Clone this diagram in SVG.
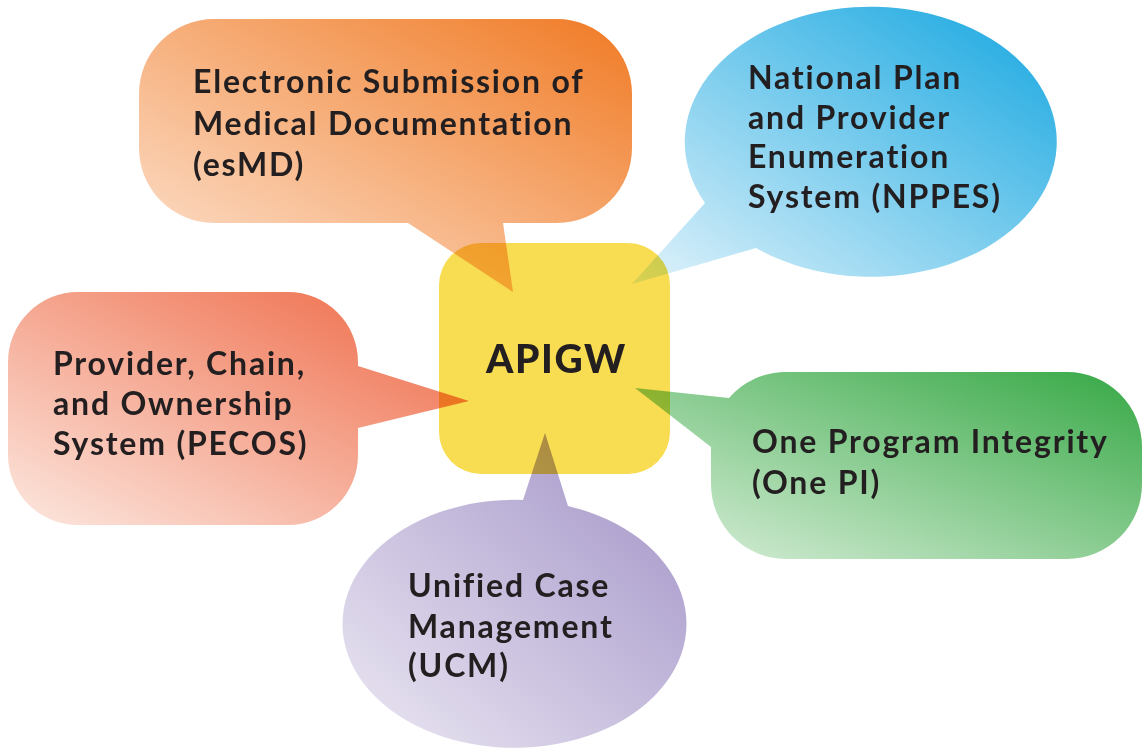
<svg xmlns="http://www.w3.org/2000/svg" width="1143" height="749" viewBox="0 0 1143 749">
<defs>
<linearGradient id="gOrange" x1="0" y1="1" x2="1" y2="0"><stop offset="0" stop-color="#FDE6D6"/><stop offset="1" stop-color="#F07A24"/></linearGradient>
<linearGradient id="gBlue" x1="0" y1="1" x2="1" y2="0"><stop offset="0" stop-color="#E2F3FB"/><stop offset="1" stop-color="#14A6E0"/></linearGradient>
<linearGradient id="gRed" x1="0" y1="1" x2="1" y2="0"><stop offset="0" stop-color="#FCE8E0"/><stop offset="1" stop-color="#EE6642"/></linearGradient>
<linearGradient id="gGreen" x1="0" y1="1" x2="1" y2="0"><stop offset="0" stop-color="#DDF0DD"/><stop offset="1" stop-color="#36A845"/></linearGradient>
<linearGradient id="gPurple" x1="0" y1="1" x2="1" y2="0"><stop offset="0" stop-color="#ECE8F3"/><stop offset="1" stop-color="#A091C6"/></linearGradient>
</defs>
<style>
.bubble{mix-blend-mode:multiply}
.t{font-family:Lato,"Open Sans","Liberation Sans",sans-serif;font-weight:700;font-size:32px;letter-spacing:1.8px;fill:#231F20}
.c{font-family:Lato,"Open Sans","Liberation Sans",sans-serif;font-weight:900;font-size:39px;letter-spacing:1.6px;fill:#231F20}
</style>
<rect width="1143" height="749" fill="#FFFFFF"/>
<g id="apigw">
<rect x="439" y="243" width="231" height="231" rx="42" fill="#F8DC52"/>
<text class="c" x="486" y="373">APIGW</text>
</g>
<g id="esmd">
<path class="bubble" fill="url(#gOrange)" d="M214,19 H557 A75,75 0 0 1 632,94 V148 A75,75 0 0 1 557,223 H503 L513,292 L408,223 H214 A75,75 0 0 1 139,148 V94 A75,75 0 0 1 214,19 Z"/>
<text class="t" x="193" y="93">Electronic Submission of</text>
<text class="t" x="193" y="135">Medical Documentation</text>
<text class="t" x="193" y="176">(esMD)</text>
</g>
<g id="nppes">
<path class="bubble" fill="url(#gBlue)" d="M705,203 A186,135 0 1 1 756,248 L632,284 Z"/>
<text class="t" x="748" y="89">National Plan</text>
<text class="t" x="748" y="129">and Provider</text>
<text class="t" x="748" y="168">Enumeration</text>
<text class="t" x="748" y="208">System (NPPES)</text>
</g>
<g id="pecos">
<path class="bubble" fill="url(#gRed)" d="M78,292 H288 A70,70 0 0 1 358,362 V366 L469,401 L358,428 V455 A70,70 0 0 1 288,525 H78 A70,70 0 0 1 8,455 V362 A70,70 0 0 1 78,292 Z"/>
<text class="t" x="53" y="375">Provider, Chain,</text>
<text class="t" x="53" y="415">and Ownership</text>
<text class="t" x="53" y="455">System (PECOS)</text>
</g>
<g id="onepi">
<path class="bubble" fill="url(#gGreen)" d="M786,372 H1067 A75,75 0 0 1 1142,447 V484 A75,75 0 0 1 1067,559 H786 A75,75 0 0 1 711,484 V447 L635,388 L729,398 A75,75 0 0 1 786,372 Z"/>
<text class="t" x="752" y="453">One Program Integrity</text>
<text class="t" x="752" y="494">(One PI)</text>
</g>
<g id="ucm">
<path class="bubble" fill="url(#gPurple)" d="M568,506 A172,124 0 1 1 523,500 L545,433 Z"/>
<text class="t" x="408" y="597">Unified Case</text>
<text class="t" x="408" y="638">Management</text>
<text class="t" x="408" y="677">(UCM)</text>
</g>
</svg>
